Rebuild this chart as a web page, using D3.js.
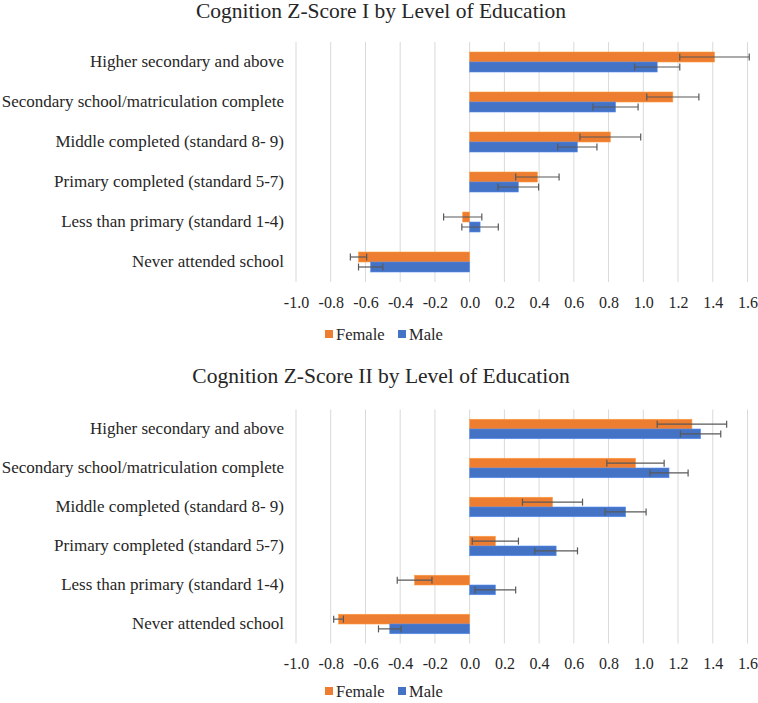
<!DOCTYPE html>
<html>
<head>
<meta charset="utf-8">
<script src="https://cdn.jsdelivr.net/npm/d3@7"></script>
<style>
  body { margin: 0; background: #fff; }
  svg { display: block; }
  svg text { font-family: "Liberation Serif", "Times New Roman", Times, "DejaVu Serif", serif !important; fill: #262626; }
</style>
</head>
<body>
<svg id="chart" width="758" height="703"></svg>
<script>
const categories = [
  "Higher secondary and above",
  "Secondary school/matriculation complete",
  "Middle completed (standard 8- 9)",
  "Primary completed (standard 5-7)",
  "Less than primary (standard 1-4)",
  "Never attended school"
];
const seriesNames = ["Female", "Male"];
const seriesColors = ["#ED7D31", "#4472C4"];
const tickValues = [-1.0, -0.8, -0.6, -0.4, -0.2, 0.0, 0.2, 0.4, 0.6, 0.8, 1.0, 1.2, 1.4, 1.6];

const titleI = "Cognition Z-Score I by Level of Education";
const femaleI = [1.41, 1.17, 0.81, 0.39, -0.04, -0.64];
const maleI = [1.08, 0.84, 0.62, 0.28, 0.06, -0.57];
const femaleErrI = [0.20, 0.15, 0.175, 0.125, 0.11, 0.047];
const maleErrI = [0.13, 0.13, 0.113, 0.117, 0.105, 0.07];

const titleII = "Cognition Z-Score II by Level of Education";
const femaleII = [1.28, 0.955, 0.477, 0.148, -0.317, -0.755];
const maleII = [1.33, 1.148, 0.898, 0.498, 0.148, -0.46];
const femaleErrII = [0.20, 0.165, 0.173, 0.133, 0.10, 0.028];
const maleErrII = [0.116, 0.11, 0.118, 0.123, 0.117, 0.065];

const svg = d3.select("#chart");
const x = d3.scaleLinear().domain([-1.0, 1.6]).range([296, 747.5]);

function drawPanel(cfg) {
  const g = svg.append("g");
  const y = d3.scaleBand().domain(categories).range([cfg.top, cfg.bottom])
    .paddingInner(0.5).paddingOuter(0.25);
  const y1 = d3.scaleBand().domain(seriesNames).range([0, y.bandwidth()]);

  g.append("text").attr("x", 381).attr("y", cfg.titleY)
    .attr("text-anchor", "middle").attr("font-size", 21.5).text(cfg.title);

  g.append("g").selectAll("line").data(tickValues).join("line")
    .attr("x1", d => x(d)).attr("x2", d => x(d))
    .attr("y1", cfg.top).attr("y2", cfg.bottom)
    .attr("stroke", "#d9d9d9").attr("stroke-width", 1);

  const ax = d3.axisBottom(x).tickValues(tickValues).tickFormat(d => d3.format(".1f")(d).replace("−", "-")).tickSize(0).tickPadding(0);
  const axg = g.append("g").attr("transform", `translate(0,${cfg.bottom + 25.5})`).call(ax);
  axg.select(".domain").remove();
  axg.selectAll("text").attr("font-size", 16).attr("dy", 0);

  const ay = d3.axisLeft(y).tickSize(0).tickPadding(0);
  const ayg = g.append("g").attr("transform", "translate(284,0)").call(ay);
  ayg.select(".domain").remove();
  ayg.selectAll("text").attr("font-size", 17);

  const series = [cfg.female, cfg.male];
  const errs = [cfg.femaleErr, cfg.maleErr];
  seriesNames.forEach((s, si) => {
    const rows = categories.map((c, i) => ({ c, v: series[si][i], e: errs[si][i] }));
    const sg = g.append("g");
    sg.selectAll("rect").data(rows).join("rect")
      .attr("x", d => x(Math.min(0, d.v)))
      .attr("width", d => Math.abs(x(d.v) - x(0)))
      .attr("y", d => y(d.c) + y1(s))
      .attr("height", y1.bandwidth())
      .attr("fill", seriesColors[si])
      .attr("stroke", d3.color(seriesColors[si]).brighter(0.6))
      .attr("stroke-width", 0.6);
    const eg = sg.selectAll("g.err").data(rows).join("g").attr("class", "err")
      .attr("stroke", "#595959").attr("stroke-width", 1.2);
    eg.append("line")
      .attr("x1", d => x(d.v - d.e)).attr("x2", d => x(d.v + d.e))
      .attr("y1", d => y(d.c) + y1(s) + y1.bandwidth() / 2)
      .attr("y2", d => y(d.c) + y1(s) + y1.bandwidth() / 2);
    [-1, 1].forEach(sign => {
      eg.append("line")
        .attr("x1", d => x(d.v + sign * d.e)).attr("x2", d => x(d.v + sign * d.e))
        .attr("y1", d => y(d.c) + y1(s) + y1.bandwidth() / 2 - 3.5)
        .attr("y2", d => y(d.c) + y1(s) + y1.bandwidth() / 2 + 3.5);
    });
  });

  const lg = g.append("g").attr("transform", `translate(325,${cfg.legendY})`);
  const offsets = [0, 73];
  seriesNames.forEach((s, si) => {
    lg.append("rect").attr("x", offsets[si]).attr("y", -4).attr("width", 8).attr("height", 8)
      .attr("fill", seriesColors[si]);
    lg.append("text").attr("x", offsets[si] + 11).attr("y", 0).attr("dy", "0.35em")
      .attr("font-size", 16.5).text(s);
  });
}

drawPanel({ title: titleI, titleY: 17.5, top: 42, bottom: 282, legendY: 334,
  female: femaleI, male: maleI, femaleErr: femaleErrI, maleErr: maleErrI });
drawPanel({ title: titleII, titleY: 383, top: 409.5, bottom: 643.5, legendY: 691,
  female: femaleII, male: maleII, femaleErr: femaleErrII, maleErr: maleErrII });
</script>
</body>
</html>
